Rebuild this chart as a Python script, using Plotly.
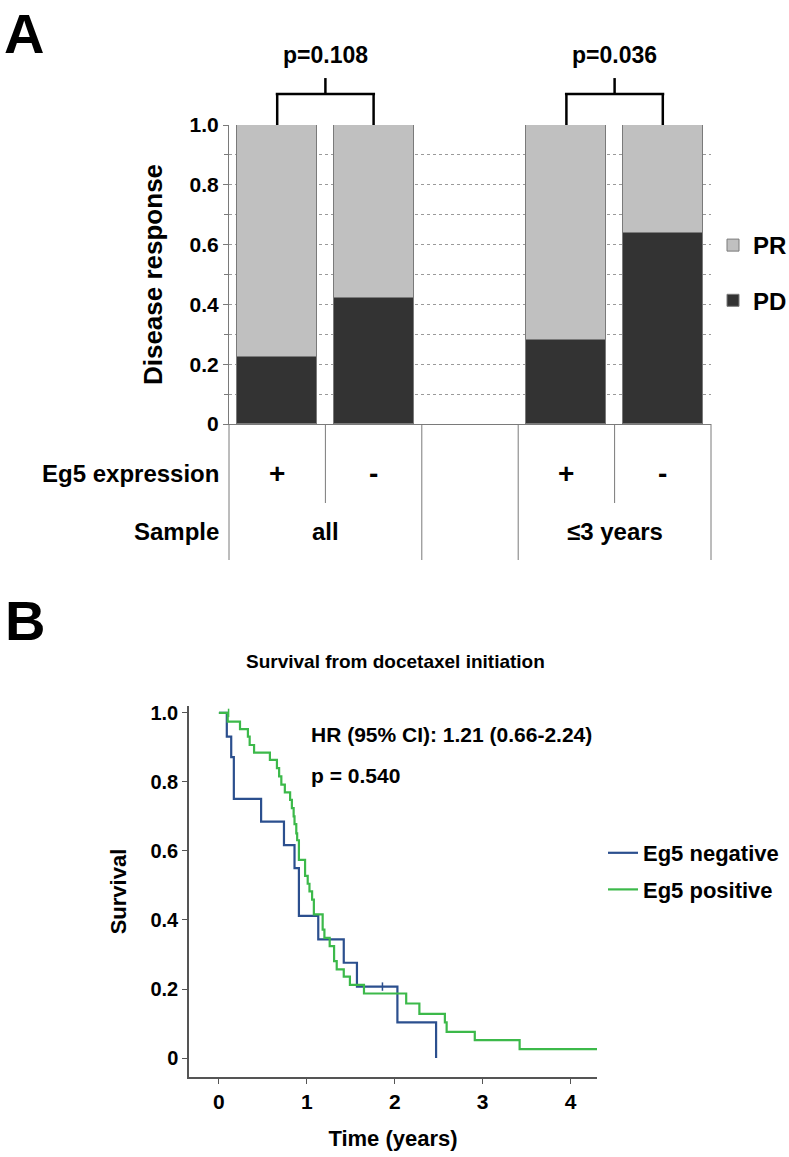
import plotly.graph_objects as go

# ---------------- Panel A data ----------------
sample_groups = ["all", "≤3 years"]
eg5_levels = ["+", "-"]
pd_fraction = {"all": [0.225, 0.421], "≤3 years": [0.281, 0.640]}
p_values = ["p=0.108", "p=0.036"]
yA_ticks = [0, 0.2, 0.4, 0.6, 0.8, 1.0]
yA_ticktext = ["0", "0.2", "0.4", "0.6", "0.8", "1.0"]

# ---------------- Panel B data ----------------
neg_time = [0.0, 0.09, 0.14, 0.17, 0.48, 0.74, 0.86, 0.91, 0.91, 1.13, 1.42, 1.57, 2.03, 2.47]
neg_surv = [1.0, 0.931, 0.872, 0.751, 0.685, 0.617, 0.550, 0.482, 0.412, 0.344, 0.276, 0.207, 0.103, 0.0]
neg_cens_time = [1.86]
neg_cens_surv = [0.207]

pos_time = [0.0, 0.10, 0.24, 0.33, 0.35, 0.40, 0.58, 0.66, 0.685, 0.71, 0.75, 0.81, 0.83, 0.85,
            0.86, 0.88, 0.89, 0.91, 0.98, 1.01, 1.03, 1.06, 1.08, 1.18, 1.20, 1.26, 1.31, 1.34,
            1.42, 1.49, 1.65, 2.13, 2.28, 2.57, 2.59, 2.91, 3.42, 4.30]
pos_surv = [1.0, 0.975, 0.953, 0.931, 0.907, 0.885, 0.864, 0.840, 0.816, 0.792, 0.770, 0.748, 0.724, 0.700,
            0.678, 0.651, 0.631, 0.574, 0.528, 0.505, 0.483, 0.459, 0.416, 0.372, 0.348, 0.324, 0.281, 0.257,
            0.236, 0.212, 0.187, 0.158, 0.128, 0.103, 0.076, 0.052, 0.026, 0.026]
pos_cens_time = [0.11]
pos_cens_surv = [1.0]

hr_text = "HR (95% CI): 1.21 (0.66-2.24)"
p_text = "p = 0.540"
xB_ticks = [0, 1, 2, 3, 4]
yB_ticks = [0, 0.2, 0.4, 0.6, 0.8, 1.0]
yB_ticktext = ["0", "0.2", "0.4", "0.6", "0.8", "1.0"]

W, H = 789, 1157
FONT = "Liberation Sans, Arial, sans-serif"


def py(px):
    return 1 - px / H


def pxx(px):
    return px / W


# categories with a spacer slot between the two sample groups
cats, pd_vals = [], []
for gi, g in enumerate(sample_groups):
    for li, lev in enumerate(eg5_levels):
        cats.append(f"{g} {lev}")
        pd_vals.append(pd_fraction[g][li])
    if gi < len(sample_groups) - 1:
        cats.append("gap")
        pd_vals.append(None)
pr_vals = [None if v is None else 1 - v for v in pd_vals]

fig = go.Figure()
bar_line = dict(color="#7a7a7a", width=1)
fig.add_trace(go.Bar(x=cats, y=pd_vals, name="PD", marker=dict(color="#333333", line=bar_line),
                     width=0.83, xaxis="x", yaxis="y", legend="legend", legendgroup="pd", legendrank=2))
fig.add_trace(go.Bar(x=cats, y=pr_vals, name="PR", marker=dict(color="#c0c0c0", line=bar_line),
                     width=0.83, xaxis="x", yaxis="y", legend="legend", legendgroup="pr", legendrank=1))

NEG_C = "#2b4f8e"
POS_C = "#3cb94a"
fig.add_trace(go.Scatter(x=neg_time, y=neg_surv, mode="lines", line=dict(color=NEG_C, width=2.2, shape="hv"),
                         name="Eg5 negative", xaxis="x2", yaxis="y2", legend="legend2", legendgroup="neg"))
fig.add_trace(go.Scatter(x=pos_time, y=pos_surv, mode="lines", line=dict(color=POS_C, width=2.2, shape="hv"),
                         name="Eg5 positive", xaxis="x2", yaxis="y2", legend="legend2", legendgroup="pos"))
fig.add_trace(go.Scatter(x=neg_cens_time, y=neg_cens_surv, mode="markers",
                         marker=dict(symbol="line-ns", size=6, line=dict(color=NEG_C, width=1.5)),
                         showlegend=False, xaxis="x2", yaxis="y2"))
fig.add_trace(go.Scatter(x=pos_cens_time, y=pos_cens_surv, mode="markers",
                         marker=dict(symbol="line-ns", size=6, line=dict(color=POS_C, width=1.5)),
                         showlegend=False, xaxis="x2", yaxis="y2"))


def bold(s, c="black"):
    return dict(family=FONT, size=s, color=c, weight="bold")


fig.update_layout(
    width=W, height=H, autosize=False,
    margin=dict(l=0, r=0, t=0, b=0, pad=0, autoexpand=False),
    paper_bgcolor="white", plot_bgcolor="white",
    barmode="stack", bargap=0,
    xaxis=dict(domain=[pxx(229), pxx(711)], range=[-0.5, 4.5], type="category", anchor="y",
               categoryorder="array", categoryarray=cats,
               showticklabels=False, ticks="", showgrid=False, zeroline=False,
               showline=True, linecolor="#7a7a7a", linewidth=1),
    yaxis=dict(domain=[py(424), py(125)], range=[0, 1], anchor="x", tickvals=yA_ticks, ticktext=yA_ticktext,
               ticks="outside", ticklen=5, tickcolor="#7a7a7a", tickfont=bold(21),
               showline=True, linecolor="#7a7a7a", linewidth=1, zeroline=False,
               showgrid=True, gridcolor="#9a9a9a", griddash="dot", gridwidth=1,
               minor=dict(dtick=0.1, ticks="outside", ticklen=4, tickcolor="#7a7a7a",
                          showgrid=True, gridcolor="#9a9a9a", griddash="dot", gridwidth=1),
               title=dict(text="Disease response", font=bold(26), standoff=19)),
    xaxis2=dict(domain=[pxx(189), pxx(597)], range=[-0.34, 4.3], anchor="y2", tickvals=xB_ticks,
                ticks="outside", ticklen=5, tickcolor="#555555", tickfont=bold(21),
                showline=True, linecolor="#555555", linewidth=1.5, showgrid=False, zeroline=False,
                title=dict(text="Time (years)", font=bold(22), standoff=19)),
    yaxis2=dict(domain=[py(1077), py(706)], range=[-0.055, 1.02], anchor="x2",
                tickvals=yB_ticks, ticktext=yB_ticktext,
                ticks="outside", ticklen=5, tickcolor="#555555", tickfont=bold(20),
                showline=True, linecolor="#555555", linewidth=1.5, showgrid=False, zeroline=False,
                title=dict(text="Survival", font=bold(22), standoff=18)),
    legend=dict(x=pxx(713), y=py(223), xanchor="left", yanchor="top", font=bold(24),
                traceorder="grouped", tracegroupgap=21, bgcolor="rgba(0,0,0,0)"),
    legend2=dict(x=pxx(603), y=py(832), xanchor="left", yanchor="top", font=bold(22),
                 traceorder="grouped", tracegroupgap=5, bgcolor="rgba(0,0,0,0)"),
    showlegend=True,
)

shapes = []
line_k = dict(color="black", width=2.5)
for gi in range(len(sample_groups)):
    left = 0.1 + gi * 0.6
    right = left + 0.2
    mid = (left + right) / 2
    for xs in (left, right):
        shapes.append(dict(type="line", xref="x domain", yref="y domain", x0=xs, x1=xs, y0=1.0, y1=1.104, line=line_k))
    shapes.append(dict(type="line", xref="x domain", yref="y domain", x0=left - 0.003, x1=right + 0.003,
                       y0=1.104, y1=1.104, line=line_k))
    shapes.append(dict(type="line", xref="x domain", yref="y domain", x0=mid, x1=mid, y0=1.104, y1=1.157, line=line_k))

# table grid below panel A
grid = dict(color="#7a7a7a", width=1)
for xs, bottom in [(0.0, 560), (0.2, 503), (0.4, 560), (0.6, 560), (0.8, 503), (1.0, 560)]:
    shapes.append(dict(type="line", xref="x domain", yref="paper", x0=xs, x1=xs, y0=py(424), y1=py(bottom), line=grid))
fig.update_layout(shapes=shapes)

C = dict(xanchor="center", yanchor="middle", showarrow=False)
ann = []
ann.append(dict(text="A", x=pxx(24), y=py(33), xref="paper", yref="paper", font=bold(56), **C))
ann.append(dict(text="B", x=pxx(25), y=py(620), xref="paper", yref="paper", font=bold(56), **C))
for gi, p in enumerate(p_values):
    ann.append(dict(text=p, x=0.2 + gi * 0.6, y=1.234, xref="x domain", yref="y domain", font=bold(23), **C))
ann.append(dict(text="Eg5 expression", x=pxx(221), y=py(474), xref="paper", yref="paper",
                xanchor="right", yanchor="middle", showarrow=False, font=bold(24)))
ann.append(dict(text="Sample", x=pxx(221), y=py(531), xref="paper", yref="paper",
                xanchor="right", yanchor="middle", showarrow=False, font=bold(24)))
for c in cats:
    if c == "gap":
        continue
    lev = c.split(" ")[-1]
    ann.append(dict(text=lev, x=c, y=py(474), xref="x", yref="paper", font=bold(28), **C))
for gi, g in enumerate(sample_groups):
    ann.append(dict(text=g, x=gi * 3 + 0.5, y=py(531), xref="x", yref="paper", font=bold(24), **C))
ann.append(dict(text="Survival from docetaxel initiation", x=pxx(395), y=py(662), xref="paper", yref="paper",
                font=bold(19), **C))
ann.append(dict(text=hr_text, x=1.03, y=0.936, xref="x2", yref="y2", xanchor="left", yanchor="middle",
                showarrow=False, font=bold(21)))
ann.append(dict(text=p_text, x=1.03, y=0.82, xref="x2", yref="y2", xanchor="left", yanchor="middle",
                showarrow=False, font=bold(21)))
fig.update_layout(annotations=ann)

fig.write_html("out.html", config={"displayModeBar": False},
               post_script="document.body.style.margin='0px';document.body.style.padding='0px';")
